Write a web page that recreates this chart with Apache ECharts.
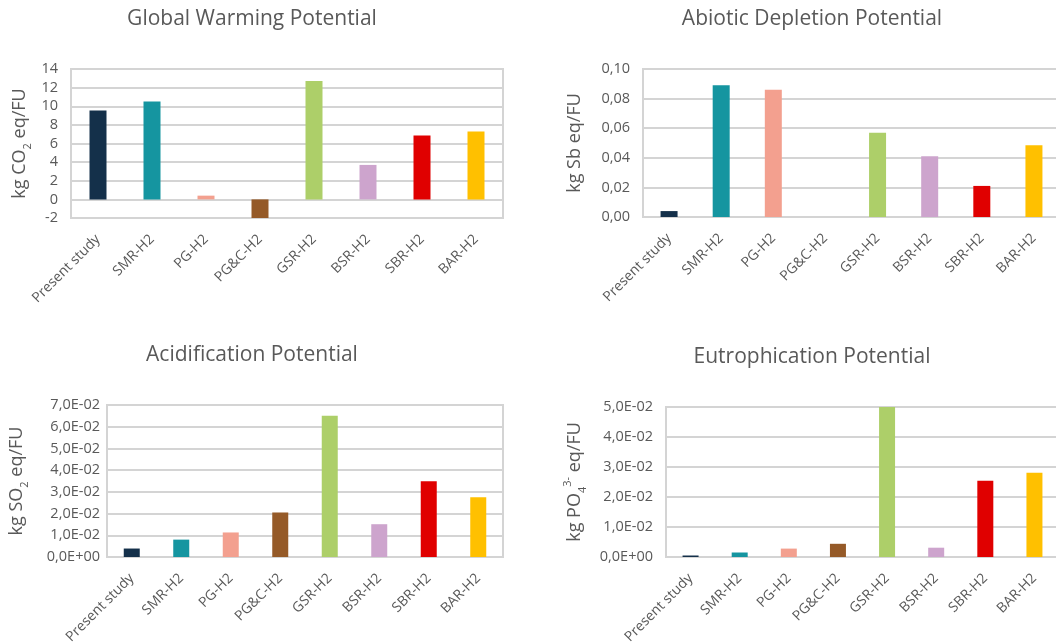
<!DOCTYPE html>
<html>
<head>
<meta charset="utf-8">
<script src="https://cdn.jsdelivr.net/npm/echarts@6/dist/echarts.min.js"></script>
<style>
  html, body { margin: 0; padding: 0; background: #fff; }
  #main { width: 1056px; height: 642px; }
</style>
</head>
<body>
<div id="main"></div>
<script>
// 数据
var categories = ['Present study', 'SMR-H2', 'PG-H2', 'PG&C-H2', 'GSR-H2', 'BSR-H2', 'SBR-H2', 'BAR-H2'];
var barColors = ['#14304a', '#1595a0', '#f3a08f', '#955a28', '#adcf69', '#cda4cd', '#e00000', '#ffc000'];

var gwpValues = [9.55, 10.5, 0.4, -2.2, 12.7, 3.7, 6.85, 7.3];
var adpValues = [0.004, 0.089, 0.086, 0, 0.057, 0.041, 0.021, 0.0485];
var apValues = [0.0039, 0.008, 0.0113, 0.0205, 0.065, 0.0151, 0.0349, 0.0275];
var epValues = [0.0005, 0.0015, 0.0028, 0.0044, 0.05, 0.0031, 0.0254, 0.0281];

var chartTitles = ['Global Warming Potential', 'Abiotic Depletion Potential', 'Acidification Potential', 'Eutrophication Potential'];
var axisNames = [
  '{a|kg CO}{b|2}{a| eq/FU}',
  '{a|kg Sb eq/FU}',
  '{a|kg SO}{b|2}{a| eq/FU}',
  '{a|kg PO}{b|4}{c|3-}{a| eq/FU}'
];

var textColor = '#595959';
var lineColor = '#d4d4d4';
var fontFamily = '"Open Sans", sans-serif';

// 0,10 形式
function commaFixed(v) {
  return v.toFixed(2).replace('.', ',');
}
// 7,0E-02 形式
function commaSci(v) {
  if (Math.abs(v) < 1e-12) return '0,0E+00';
  var e = Math.floor(Math.log10(Math.abs(v)) + 1e-9);
  var m = v / Math.pow(10, e);
  var es = (e < 0 ? '-' : '+') + (Math.abs(e) < 10 ? '0' : '') + Math.abs(e);
  return m.toFixed(1).replace('.', ',') + 'E' + es;
}

var grids = [
  { left: 71, top: 69, width: 432, height: 149 },
  { left: 643, top: 69, width: 417, height: 148 },
  { left: 107, top: 405, width: 396, height: 152 },
  { left: 666, top: 407, width: 393, height: 150 }
];
var yRanges = [
  { min: -2, max: 14, interval: 2, fmt: function (v) { return String(v); }, gap: 38 },
  { min: 0, max: 0.1, interval: 0.02, fmt: commaFixed, gap: 55 },
  { min: 0, max: 0.07, interval: 0.01, fmt: commaSci, gap: 77 },
  { min: 0, max: 0.05, interval: 0.01, fmt: commaSci, gap: 78 }
];
var titlePos = [[252, 9], [812, 9], [252, 345], [812, 347]];
var allValues = [gwpValues, adpValues, apValues, epValues];
var barWidths = [17, 17, 16, 16];

var myChart = echarts.init(document.getElementById('main'));

var option = {
  animation: false,
  color: barColors,
  textStyle: { fontFamily: fontFamily },
  title: [],
  grid: [],
  xAxis: [],
  yAxis: [],
  series: []
};

for (var i = 0; i < 4; i++) {
  option.title.push({
    text: chartTitles[i],
    left: titlePos[i][0],
    top: titlePos[i][1],
    textAlign: 'center',
    padding: 0,
    textStyle: { color: textColor, fontSize: 21, fontWeight: 'normal', fontFamily: fontFamily }
  });
  option.grid.push({
    left: grids[i].left, top: grids[i].top, width: grids[i].width, height: grids[i].height,
    show: true, borderColor: lineColor, borderWidth: 2,
    containLabel: false, outerBoundsMode: 'none'
  });
  option.xAxis.push({
    type: 'category',
    gridIndex: i,
    data: categories,
    axisLine: { show: true, onZero: false, lineStyle: { color: lineColor, width: 2 } },
    axisTick: { show: false },
    axisLabel: { interval: 0, rotate: 45, margin: 19, color: textColor, fontSize: 14, fontFamily: fontFamily }
  });
  option.yAxis.push({
    type: 'value',
    gridIndex: i,
    min: yRanges[i].min,
    max: yRanges[i].max,
    interval: yRanges[i].interval,
    name: axisNames[i],
    nameLocation: 'middle',
    nameRotate: 90,
    nameGap: yRanges[i].gap,
    nameTextStyle: {
      color: textColor,
      rich: {
        a: { fontSize: 18, lineHeight: 26, color: textColor, fontFamily: fontFamily, verticalAlign: 'middle' },
        b: { fontSize: 11, color: textColor, fontFamily: fontFamily, verticalAlign: 'bottom' },
        c: { fontSize: 11, color: textColor, fontFamily: fontFamily, verticalAlign: 'top' }
      }
    },
    axisLine: { show: false },
    axisTick: { show: false },
    axisLabel: { color: textColor, fontSize: 14.5, margin: i === 2 ? 7 : 13, formatter: yRanges[i].fmt, fontFamily: fontFamily },
    splitLine: { show: true, lineStyle: { color: lineColor, width: 2 } }
  });
  option.series.push({
    type: 'bar',
    xAxisIndex: i,
    yAxisIndex: i,
    colorBy: 'data',
    barWidth: barWidths[i],
    data: allValues[i]
  });
}

myChart.setOption(option);
</script>
</body>
</html>
